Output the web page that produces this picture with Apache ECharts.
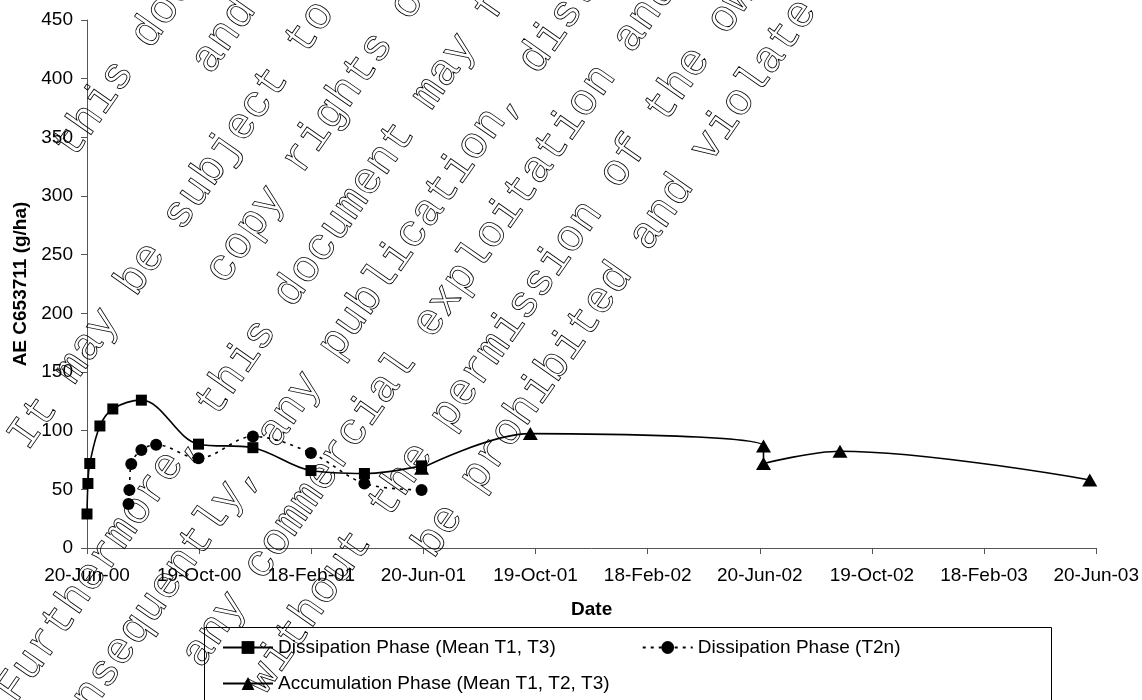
<!DOCTYPE html>
<html>
<head>
<meta charset="utf-8">
<script src="https://cdn.jsdelivr.net/npm/echarts@6/dist/echarts.min.js"></script>
<style>
html, body { margin: 0; padding: 0; background: #fff; }
#chart { width: 1142px; height: 700px; }
</style>
</head>
<body>
<div id="chart"></div>
<script>
// ---- data ----
const startDate = '2000-06-20';
const tickLabels = ['20-Jun-00', '19-Oct-00', '18-Feb-01', '20-Jun-01', '19-Oct-01',
                    '18-Feb-02', '20-Jun-02', '19-Oct-02', '18-Feb-03', '20-Jun-03'];

const meanT1T3Dates  = ['2000-06-20', '2000-06-21', '2000-06-23', '2000-07-04', '2000-07-18', '2000-08-18',
                        '2000-10-19', '2000-12-17', '2001-02-18', '2001-04-17', '2001-06-18'];
const meanT1T3Values = [29, 55, 72, 104, 118.5, 126, 88.5, 85.5, 66, 63.5, 70];

const t2nDates  = ['2000-08-04', '2000-08-05', '2000-08-07', '2000-08-18', '2000-09-03',
                   '2000-10-19', '2000-12-17', '2001-02-18', '2001-04-17', '2001-06-18'];
const t2nValues = [37.5, 49.5, 71.5, 83.5, 88, 76.5, 95, 81, 55, 49.5];

const accumDates  = ['2001-06-18', '2001-10-14', '2002-06-24', '2002-06-24', '2002-09-15', '2003-06-13'];
const accumValues = [68, 97.5, 87, 72, 82.5, 58];

const seriesNames = ['Dissipation Phase (Mean T1, T3)', 'Dissipation Phase (T2n)', 'Accumulation Phase (Mean T1, T2, T3)'];

// notice lines laid diagonally across the sheet: [text, offset along line, offset across lines]
const noticeLines = [
  ['this document', -89, 140],
  ['and', 59, 204],
  ['It may be subject to', -354, 270],
  ['copy rights of', -105, 336],
  ['Furthermore, this document may fall', -568, 405],
  ['Consequently, any publication, distribution', -585, 472],
  ['any commercial exploitation and', -433, 537],
  ['without the permission of the owner', -418, 604],
  ['be prohibited and violate the', -210, 664]
];

// ---- helpers ----
const DAY = 86400000;
function dayOffset(iso) {
  const [y, m, d] = iso.split('-').map(Number);
  const [y0, m0, d0] = startDate.split('-').map(Number);
  return (Date.UTC(y, m - 1, d) - Date.UTC(y0, m0 - 1, d0)) / DAY;
}
function pairs(dates, values) {
  return dates.map((d, i) => [dayOffset(d), values[i]]);
}

const spanDays = dayOffset('2003-06-20');
const tickStep = spanDays / (tickLabels.length - 1);

const FONT = '"Liberation Sans", Arial, sans-serif';

const ang = 55 * Math.PI / 180;
const ux = Math.cos(ang), uy = -Math.sin(ang);   // along the text
const vx = Math.sin(ang), vy = Math.cos(ang);    // across the lines
const noticeGraphics = noticeLines.map(([t, s, c]) => ({
  type: 'text',
  x: s * ux + c * vx,
  y: s * uy + c * vy,
  rotation: ang,
  z: 100,
  silent: true,
  style: {
    text: t,
    font: '44.7px "Liberation Mono", "Courier New", monospace',
    fill: 'none',
    stroke: '#000',
    lineWidth: 0.8,
    align: 'left',
    verticalAlign: 'middle'
  }
}));

const chart = echarts.init(document.getElementById('chart'), null, { renderer: 'canvas' });

const legendText = { fontSize: 19, color: '#000', fontFamily: FONT };

chart.setOption({
  animation: false,
  backgroundColor: '#fff',
  grid: { left: 87, right: 44, top: 20, bottom: 152, containLabel: false },
  legend: [
    {
      data: [seriesNames[0], seriesNames[1]],
      left: 222, top: 638, padding: 0,
      itemWidth: 50, itemHeight: 16, itemGap: 86,
      textStyle: legendText,
      selectedMode: false
    },
    {
      data: [seriesNames[2]],
      left: 222, top: 674, padding: 0,
      itemWidth: 50, itemHeight: 16,
      textStyle: legendText,
      selectedMode: false
    }
  ],
  xAxis: {
    type: 'value',
    min: 0, max: spanDays, interval: tickStep,
    name: 'Date', nameLocation: 'middle', nameGap: 52,
    nameTextStyle: { fontSize: 19, fontWeight: 'bold', color: '#000', fontFamily: FONT },
    axisLine: { show: true, lineStyle: { color: '#555', width: 1 } },
    axisTick: { show: true, length: 6, lineStyle: { color: '#555' } },
    axisLabel: {
      fontSize: 19, color: '#000', fontFamily: FONT, margin: 18,
      showMinLabel: true, showMaxLabel: true,
      formatter: v => tickLabels[Math.round(v / tickStep)] || ''
    },
    splitLine: { show: false }
  },
  yAxis: {
    type: 'value',
    min: 0, max: 450, interval: 50,
    name: 'AE C653711 (g/ha)', nameLocation: 'middle', nameGap: 56,
    nameTextStyle: { fontSize: 19, fontWeight: 'bold', color: '#000', fontFamily: FONT },
    axisLine: { show: true, lineStyle: { color: '#555', width: 1 } },
    axisTick: { show: true, length: 6, lineStyle: { color: '#555' } },
    axisLabel: { fontSize: 19, color: '#000', fontFamily: FONT, margin: 14 },
    splitLine: { show: false }
  },
  series: [
    {
      name: seriesNames[0], type: 'line', z: 4,
      data: pairs(meanT1T3Dates, meanT1T3Values),
      smooth: 0.35,
      symbol: 'rect', symbolSize: 11,
      lineStyle: { color: '#000', width: 1.6 },
      itemStyle: { color: '#000' }
    },
    {
      name: seriesNames[1], type: 'line', z: 3,
      data: pairs(t2nDates, t2nValues),
      smooth: 0.35,
      symbol: 'circle', symbolSize: 12,
      lineStyle: { color: '#000', width: 1.6, type: [3, 5] },
      itemStyle: { color: '#000' }
    },
    {
      name: seriesNames[2], type: 'line', z: 2,
      data: pairs(accumDates, accumValues),
      smooth: 0.35,
      symbol: 'triangle', symbolSize: [15, 13],
      lineStyle: { color: '#000', width: 1.6 },
      itemStyle: { color: '#000' }
    }
  ],
  graphic: [
    {
      type: 'rect', z: 1, silent: true,
      shape: { x: 204.5, y: 627.5, width: 847, height: 120 },
      style: { fill: 'none', stroke: '#000', lineWidth: 1 }
    }
  ].concat(noticeGraphics)
});
</script>
</body>
</html>
